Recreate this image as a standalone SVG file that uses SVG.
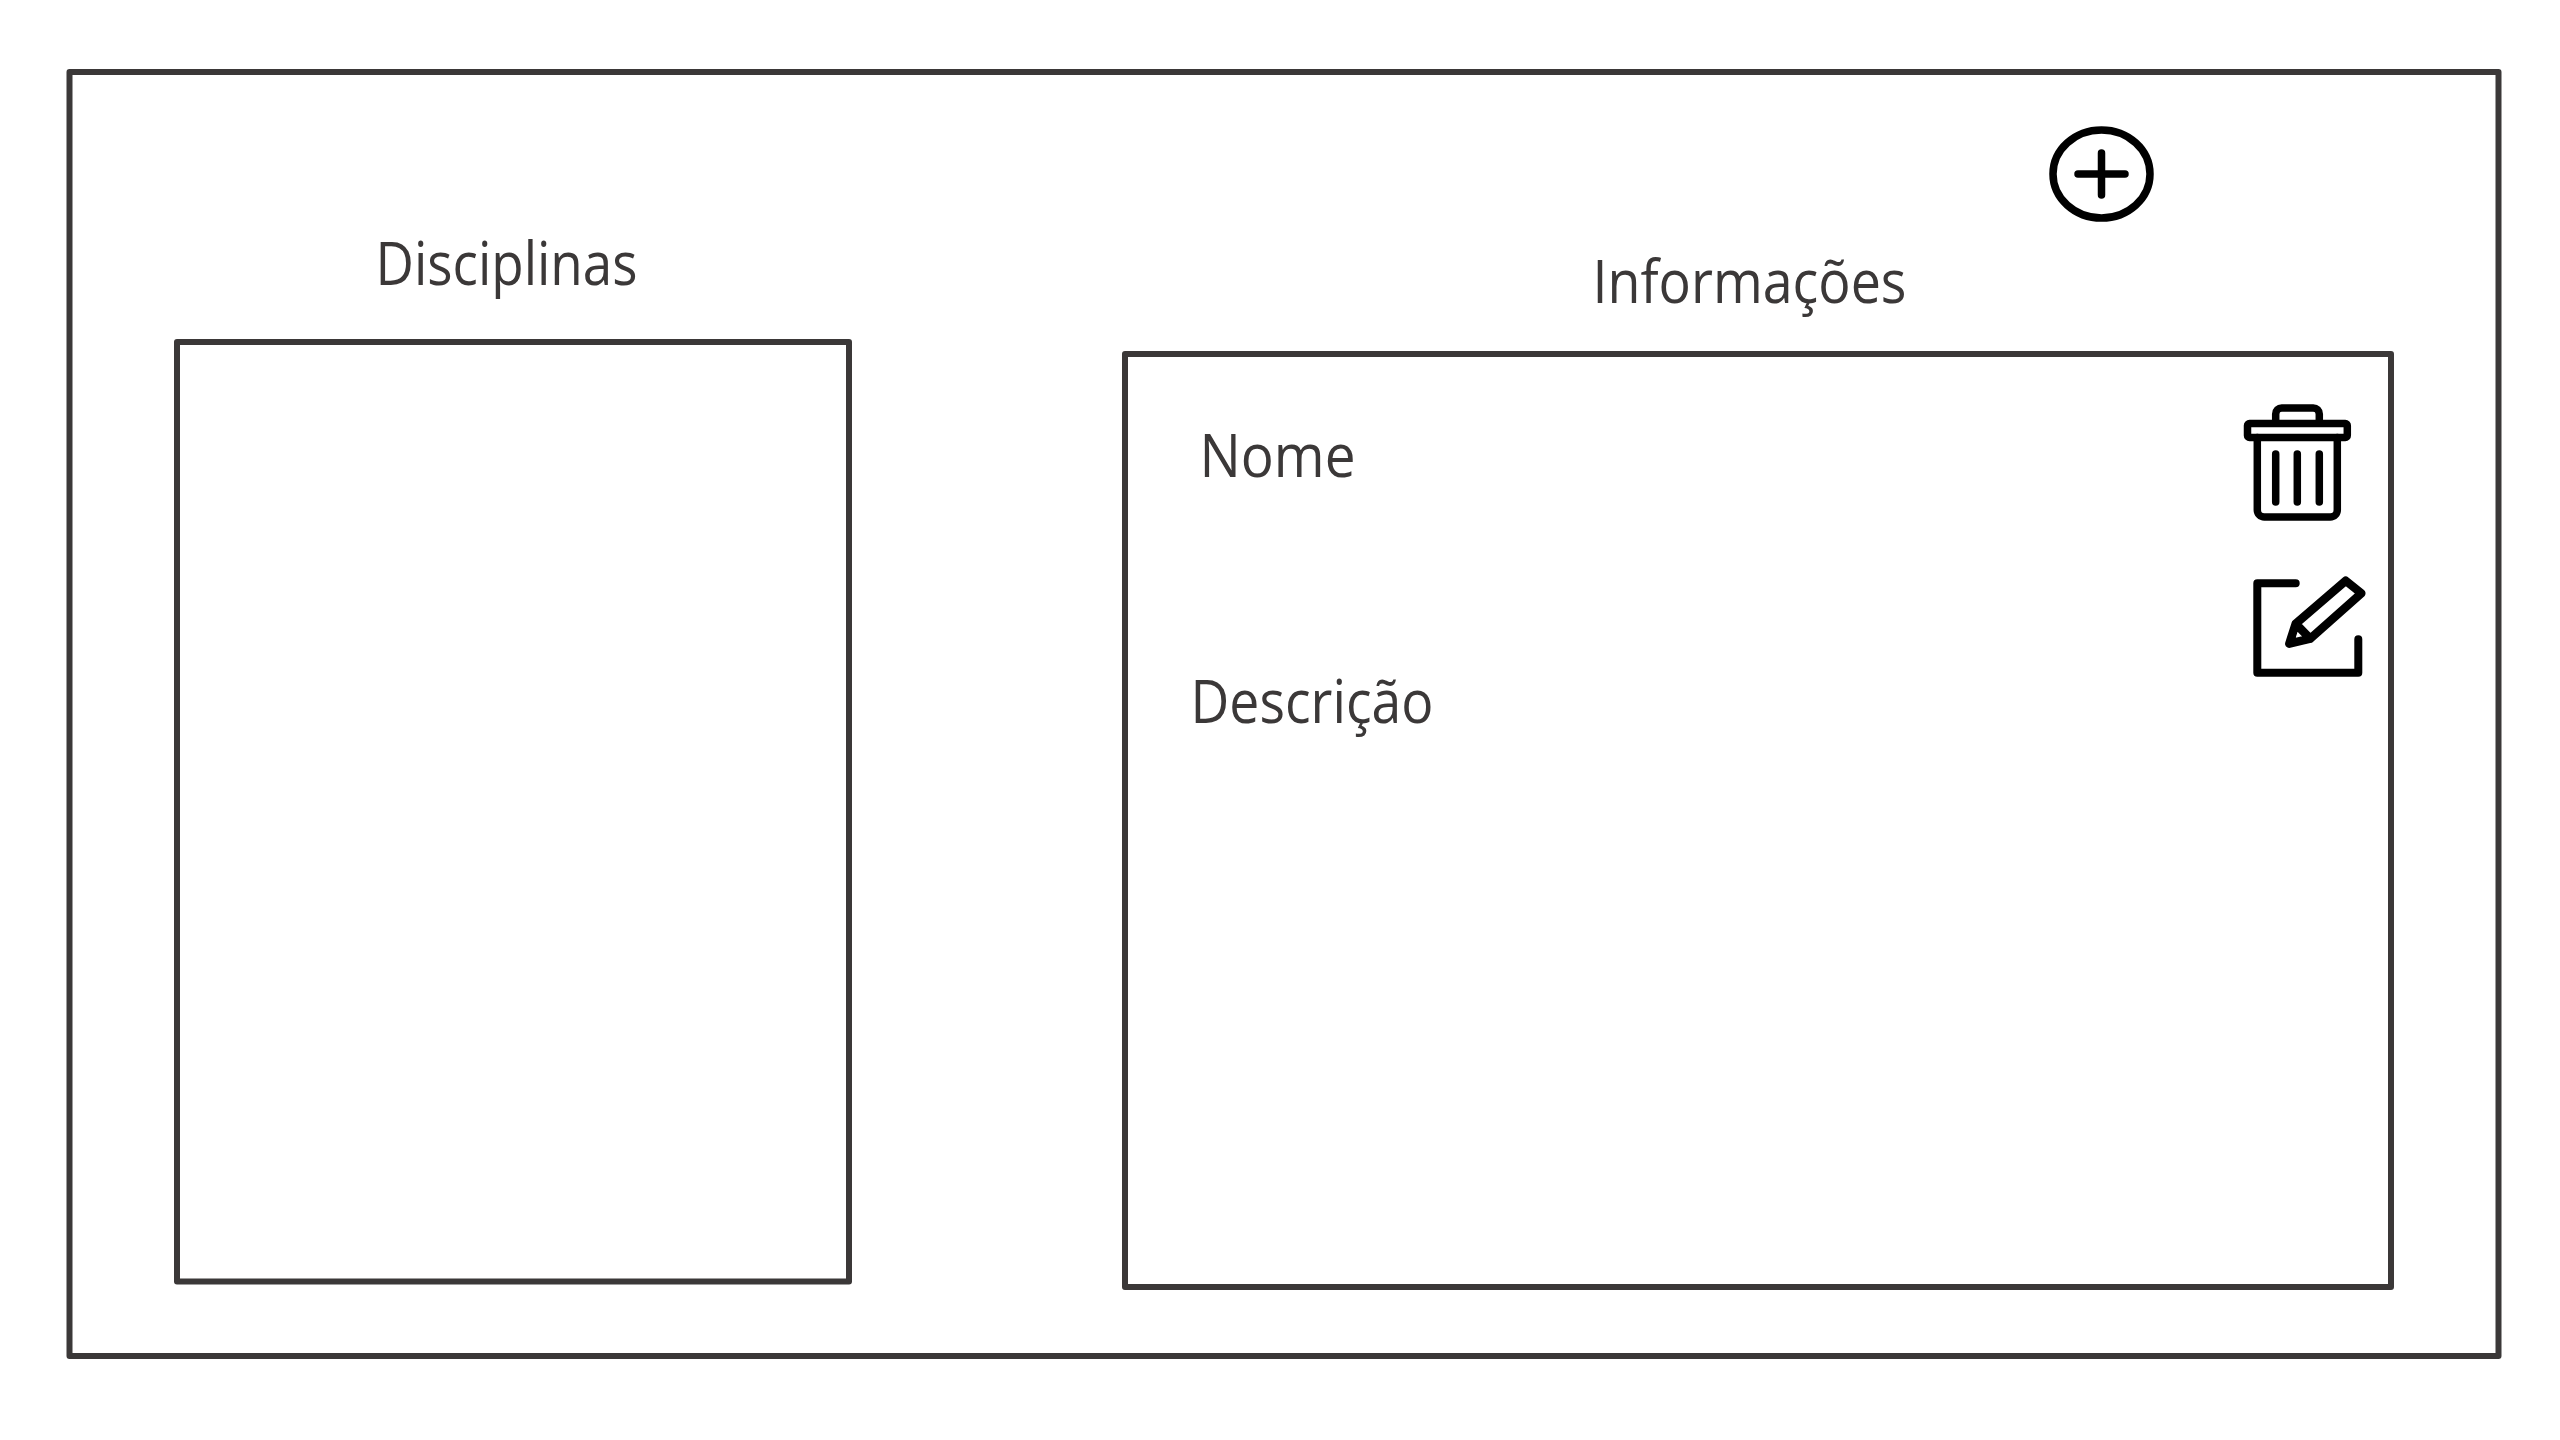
<svg xmlns="http://www.w3.org/2000/svg" width="2560" height="1440" viewBox="0 0 2560 1440">
<style>
.box{fill:#fff;stroke:#3b3838;stroke-width:6;stroke-linejoin:round}
.lbl{font-family:"Open Sans","Noto Sans",sans-serif;font-size:60px;fill:#3b3838;font-weight:400}
.ico{fill:none;stroke:#000;stroke-width:7.5;stroke-linecap:round;stroke-linejoin:round}
</style>
<rect width="2560" height="1440" fill="#fff"/>
<g id="frame"><rect class="box" x="69.5" y="72" width="2429" height="1284"/></g>
<g id="disciplinas">
<rect class="box" x="177" y="342" width="672" height="939.5"/>
<text class="lbl" x="375.5" y="285" textLength="262" lengthAdjust="spacingAndGlyphs">Disciplinas</text>
</g>
<g id="informacoes">
<rect class="box" x="1125" y="354" width="1266" height="933"/>
<text class="lbl" x="1592.5" y="303" textLength="314" lengthAdjust="spacingAndGlyphs">Informações</text>
<text class="lbl" x="1199.5" y="477" textLength="156" lengthAdjust="spacingAndGlyphs">Nome</text>
<text class="lbl" x="1190.5" y="722.5" textLength="243" lengthAdjust="spacingAndGlyphs">Descrição</text>
</g>
<g id="add-icon">
<ellipse class="ico" cx="2101.5" cy="174" rx="48.5" ry="44"/>
<path class="ico" d="M2078 174H2125M2101.5 153V195"/>
</g>
<g id="delete-icon">
<path class="ico" d="M2275.7 423V414a6 6 0 0 1 6-6H2313.3a6 6 0 0 1 6 6V423"/>
<rect class="ico" x="2247.5" y="423.5" width="99.8" height="14" rx="2"/>
<path class="ico" d="M2257.3 437.5V510a7 7 0 0 0 7 7H2330.3a7 7 0 0 0 7-7V437.5"/>
<path class="ico" d="M2275.7 454V502M2297.3 454V502M2319.3 454V502"/>
</g>
<g id="edit-icon">
<path class="ico" style="stroke-width:8" d="M2295.7 583.3H2257.3V672.7H2358.3V639.3"/>
<path class="ico" style="stroke-width:8.5" d="M2345.7 580.7L2361.3 593.3L2310.3 638.7L2289.3 643.7L2295.7 623.7ZM2295.7 623.7L2310.3 638.7"/>
</g>
</svg>
